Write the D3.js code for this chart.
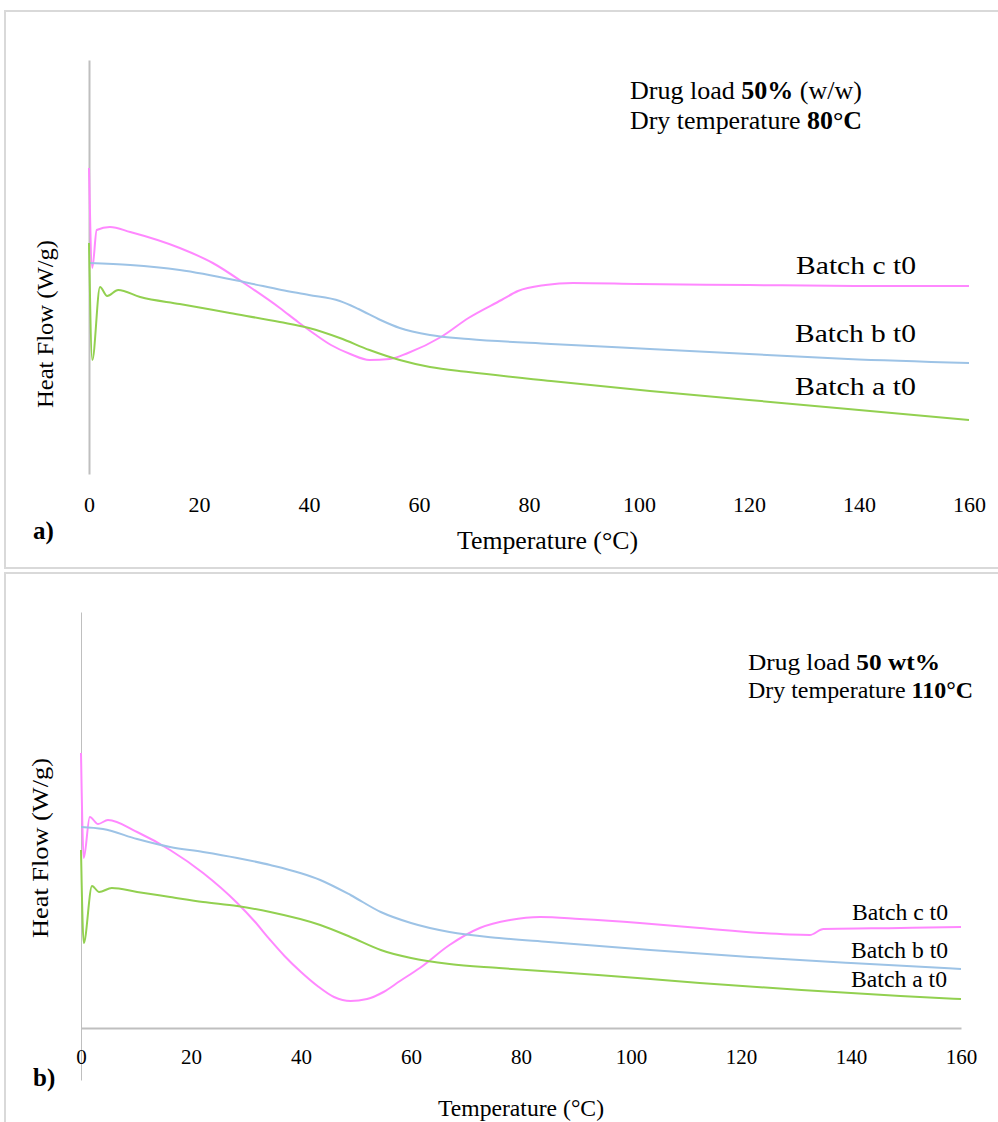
<!DOCTYPE html>
<html><head><meta charset="utf-8">
<script src="https://cdn.jsdelivr.net/npm/d3@7"></script>
<style>
html,body{margin:0;padding:0;background:#fff;}
svg{display:block;font-family:"Liberation Serif","Times New Roman",serif;}
</style></head>
<body>
<svg id="chart" width="998" height="1122"></svg>
<script>
// ---------- Data (heat flow, arbitrary W/g units) ----------
const xTicks = [0,20,40,60,80,100,120,140,160];

// Panel a)
const aPinkT = [0,0.6,1.4,3.8,7.5,16.5,22.5,28.7,34.7,38,41,44,47.5,51,54.7,58,64,69,75,78,83,88,100,120,140,160];
const aPinkV = [3.06,2.06,2.44,2.47,2.42,2.26,2.11,1.89,1.66,1.52,1.40,1.29,1.20,1.14,1.15,1.21,1.37,1.56,1.74,1.83,1.89,1.91,1.90,1.89,1.88,1.88];
const aBlueT = [0,7.5,16.5,29,35,40,45.6,49,53,56.5,62,69,84,102,120,138,160];
const aBlueV = [2.11,2.09,2.04,1.91,1.84,1.79,1.73,1.65,1.54,1.46,1.39,1.35,1.30,1.25,1.20,1.15,1.11];
const aGreenT = [0,0.6,2,3.3,5.3,9.3,16.5,25.6,34.7,40,45.6,51,56.5,62,69,84,102,120,138,160];
const aGreenV = [2.31,1.14,1.87,1.78,1.84,1.77,1.70,1.61,1.52,1.46,1.36,1.24,1.14,1.07,1.02,0.93,0.83,0.74,0.65,0.54];

// Panel b)
const bPinkT = [0,0.5,1.6,3.1,4.9,10.2,16.2,22.2,28.4,31.5,34.4,37,40,43,46,49,52,55,58,61.6,67,72.5,78,83.5,90.7,101.6,112.5,123.5,132.5,135,149,160];
const bPinkV = [2.75,1.70,2.11,2.04,2.08,1.96,1.78,1.55,1.25,1.07,0.88,0.72,0.56,0.42,0.31,0.27,0.29,0.36,0.47,0.60,0.83,1.00,1.08,1.11,1.09,1.05,1.00,0.95,0.93,0.99,1.00,1.01];
const bBlueT = [0,4,10.2,16.2,22.2,28.4,34.4,43.5,49,54.5,60,67,76,85,103.5,121.6,140,160];
const bBlueV = [2.01,1.99,1.89,1.81,1.76,1.70,1.63,1.48,1.33,1.16,1.05,0.96,0.90,0.86,0.78,0.71,0.65,0.59];
const bGreenT = [0,0.5,2,3.3,5.6,10.2,16.2,22.2,28.4,34.4,43.5,49,54.5,60,67,76,94,112.5,131,149,160];
const bGreenV = [1.78,0.85,1.42,1.36,1.40,1.36,1.31,1.26,1.22,1.16,1.03,0.91,0.78,0.70,0.64,0.60,0.53,0.45,0.38,0.32,0.29];

const seriesNames = ["Batch c t0","Batch b t0","Batch a t0"];
const colors = {pink:"#ff88ff", blue:"#9dc3e6", green:"#92d050"};

// ---------- Drawing ----------
const svg = d3.select("#chart");
const zip = (T,V) => T.map((t,i)=>({t, v:V[i]}));

// panel borders
svg.append("path").attr("d","M1000,11 H5 V568 H1000").attr("fill","none").attr("stroke","#d9d9d9").attr("stroke-width",2);
svg.append("path").attr("d","M1000,573 H5 V1130").attr("fill","none").attr("stroke","#d9d9d9").attr("stroke-width",2);

function txt(g, x, y, fs, len, content){
  const t = g.append("text").attr("x",x).attr("y",y).attr("font-size",fs);
  if (len) t.attr("textLength",len).attr("lengthAdjust","spacingAndGlyphs");
  if (typeof content === "string") t.text(content);
  else content.forEach(p=>t.append("tspan").attr("font-weight",p[1]?"bold":"normal").text(p[0]));
  return t;
}

function panel(cfg){
  const x = d3.scaleLinear().domain([0,160]).range(cfg.xr);
  const y = d3.scaleLinear().domain(cfg.yd).range(cfg.yr);
  const g = svg.append("g");
  const ya = g.append("g").attr("transform",`translate(${cfg.xr[0]},0)`).call(d3.axisLeft(y).ticks(0).tickSizeOuter(0));
  ya.select(".domain").attr("stroke","#bfbfbf").attr("stroke-width",cfg.yw);
  const xa = g.append("g").attr("transform",`translate(0,${y(0)})`)
    .call(d3.axisBottom(x).tickValues(xTicks).tickSize(0).tickSizeOuter(0).tickPadding(cfg.tickPad));
  xa.select(".domain").attr("stroke", cfg.showX ? "#bfbfbf":"none").attr("stroke-width",2);
  xa.selectAll("text").attr("font-family","Liberation Serif").attr("font-size",cfg.tfs).attr("fill","#000");
  const line = d3.line().x(d=>x(d.t)).y(d=>y(d.v)).curve(d3.curveMonotoneX);
  cfg.series.forEach(s=>{
    g.append("path").datum(zip(s.T,s.V)).attr("d",line).attr("fill","none")
      .attr("stroke",s.c).attr("stroke-width",2).attr("stroke-linejoin","round");
  });
  cfg.labels.forEach(l=>txt(g,l.x,l.y,cfg.lfs,l.w,l.t));
  cfg.notes.forEach(n=>txt(g,n.x,n.y,cfg.nfs,n.w,n.parts));
  txt(g,cfg.xt[0],cfg.xt[1],cfg.afs,cfg.xt[2],"Temperature (°C)");
  g.append("text").attr("transform",`translate(${cfg.yt[0]},${cfg.yt[1]}) rotate(-90)`)
    .attr("x",-cfg.yt[2]/2).attr("font-size",cfg.yfs).attr("textLength",cfg.yt[2]).attr("lengthAdjust","spacingAndGlyphs").text("Heat Flow (W/g)");
  g.append("text").attr("x",cfg.tag[0]).attr("y",cfg.tag[1]).attr("font-weight","bold").attr("font-size",25).text(cfg.tag[2]);
}

panel({
  xr:[89,969], yd:[0,4.14], yr:[474,60], yw:2, showX:false, tfs:22, lfs:26, nfs:26, afs:25, yfs:24, tickPad:22,
  series:[{T:aPinkT,V:aPinkV,c:colors.pink},{T:aBlueT,V:aBlueV,c:colors.blue},{T:aGreenT,V:aGreenV,c:colors.green}],
  labels:[{x:796,y:274,w:120,t:seriesNames[0]},{x:795,y:342,w:121,t:seriesNames[1]},{x:795,y:395,w:121,t:seriesNames[2]}],
  notes:[{x:630,y:99,w:232,parts:[["Drug load ",0],["50%",1],[" (w/w)",0]]},{x:630,y:129,w:232,parts:[["Dry temperature ",0],["80°C",1]]}],
  xt:[457,549,181], yt:[53,324,168], tag:[33,539,"a)"]
});

panel({
  xr:[81,961], yd:[-0.52,4.16], yr:[1080,612], yw:1, showX:true, tfs:21, lfs:23, nfs:24, afs:23, yfs:24, tickPad:21,
  series:[{T:bPinkT,V:bPinkV,c:colors.pink},{T:bBlueT,V:bBlueV,c:colors.blue},{T:bGreenT,V:bGreenV,c:colors.green}],
  labels:[{x:852,y:920,w:96,t:seriesNames[0]},{x:851,y:958,w:97,t:seriesNames[1]},{x:851,y:987,w:96,t:seriesNames[2]}],
  notes:[{x:748,y:670,w:192,parts:[["Drug load ",0],["50 wt%",1]]},{x:748,y:698,w:225,parts:[["Dry temperature ",0],["110°C",1]]}],
  xt:[438,1116,166], yt:[48,848,180], tag:[33,1086,"b)"]
});
</script>
</body></html>
